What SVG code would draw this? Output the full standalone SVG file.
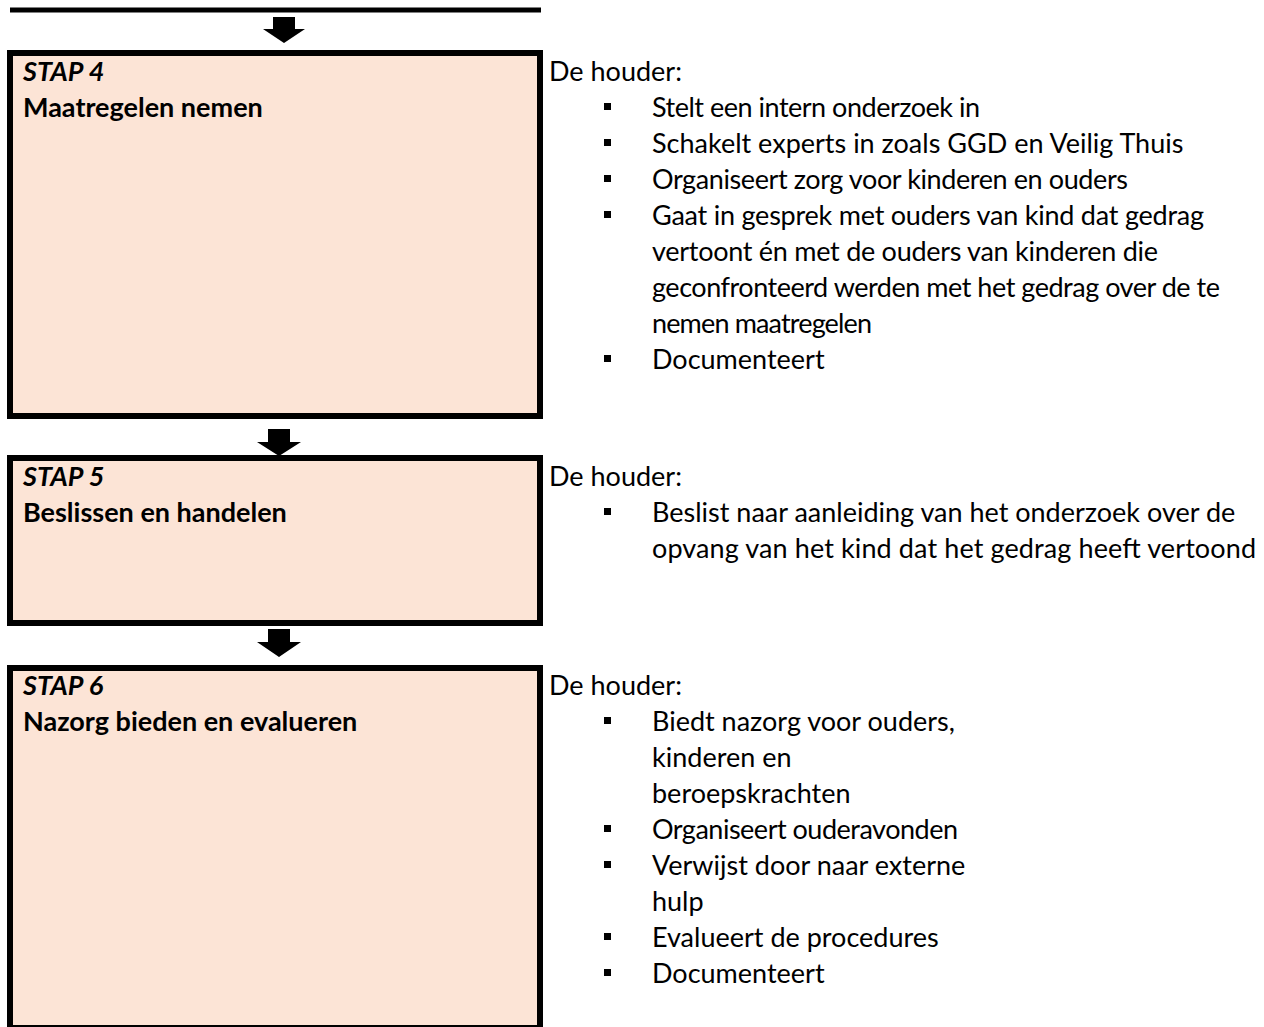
<svg xmlns="http://www.w3.org/2000/svg" width="1264" height="1027" viewBox="0 0 1264 1027">
  <style>
    .box { fill: #FCE4D6; stroke: #000000; stroke-width: 6; }
    .arrow { fill: #000000; }
    .t { font-family: Lato, "Open Sans", "Liberation Sans", sans-serif; font-size: 27px; fill: #000000; }
    .stap { font-weight: bold; font-style: italic; }
    .title { font-weight: bold; }
    .bullet { fill: #000000; }
  </style>
  <rect x="0" y="0" width="1264" height="1027" fill="#FFFFFF"/>

  <g id="prev-box-bottom">
    <line x1="10" y1="10" x2="541" y2="10" stroke="#000000" stroke-width="5"/>
  </g>

  <g id="connectors">
    <path class="arrow" d="M273,17 H295 V29 H305 L284,43 L263,29 H273 Z"/>
    <path class="arrow" d="M268,429 H290 V442 H301 L279,456 L257,442 H268 Z"/>
    <path class="arrow" d="M268,629 H290 V642 H301 L279,657 L257,642 H268 Z"/>
  </g>

  <g id="stap4">
    <rect class="box" x="10" y="53" width="530" height="363"/>
    <text class="t stap" x="23" y="81">STAP 4</text>
    <text class="t title" x="23" y="117">Maatregelen nemen</text>
  </g>
  <g id="stap4-text">
    <text class="t" x="549" y="81">De houder:</text>
    <rect class="bullet" x="604" y="103" width="7" height="7"/>
    <text class="t" x="652" y="117" textLength="328">Stelt een intern onderzoek in</text>
    <rect class="bullet" x="604" y="139" width="7" height="7"/>
    <text class="t" x="652" y="153">Schakelt experts in zoals GGD en Veilig Thuis</text>
    <rect class="bullet" x="604" y="175" width="7" height="7"/>
    <text class="t" x="652" y="189" textLength="476">Organiseert zorg voor kinderen en ouders</text>
    <rect class="bullet" x="604" y="211" width="7" height="7"/>
    <text class="t" x="652" y="225" textLength="552">Gaat in gesprek met ouders van kind dat gedrag</text>
    <text class="t" x="652" y="261" textLength="506">vertoont én met de ouders van kinderen die</text>
    <text class="t" x="652" y="297" textLength="568">geconfronteerd werden met het gedrag over de te</text>
    <text class="t" x="652" y="333" textLength="220">nemen maatregelen</text>
    <rect class="bullet" x="604" y="355" width="7" height="7"/>
    <text class="t" x="652" y="369">Documenteert</text>
  </g>

  <g id="stap5">
    <rect class="box" x="10" y="458" width="530" height="165"/>
    <text class="t stap" x="23" y="486">STAP 5</text>
    <text class="t title" x="23" y="522">Beslissen en handelen</text>
  </g>
  <g id="stap5-text">
    <text class="t" x="549" y="486">De houder:</text>
    <rect class="bullet" x="604" y="508" width="7" height="7"/>
    <text class="t" x="652" y="522">Beslist naar aanleiding van het onderzoek over de</text>
    <text class="t" x="652" y="558" textLength="604">opvang van het kind dat het gedrag heeft vertoond</text>
  </g>

  <g id="stap6">
    <rect class="box" x="10" y="668" width="530" height="360"/>
    <text class="t stap" x="23" y="695">STAP 6</text>
    <text class="t title" x="23" y="731">Nazorg bieden en evalueren</text>
  </g>
  <g id="stap6-text">
    <text class="t" x="549" y="695">De houder:</text>
    <rect class="bullet" x="604" y="717" width="7" height="7"/>
    <text class="t" x="652" y="731">Biedt nazorg voor ouders,</text>
    <text class="t" x="652" y="767">kinderen en</text>
    <text class="t" x="652" y="803">beroepskrachten</text>
    <rect class="bullet" x="604" y="825" width="7" height="7"/>
    <text class="t" x="652" y="839" textLength="306">Organiseert ouderavonden</text>
    <rect class="bullet" x="604" y="861" width="7" height="7"/>
    <text class="t" x="652" y="875">Verwijst door naar externe</text>
    <text class="t" x="652" y="911">hulp</text>
    <rect class="bullet" x="604" y="933" width="7" height="7"/>
    <text class="t" x="652" y="947">Evalueert de procedures</text>
    <rect class="bullet" x="604" y="969" width="7" height="7"/>
    <text class="t" x="652" y="983">Documenteert</text>
  </g>
</svg>
